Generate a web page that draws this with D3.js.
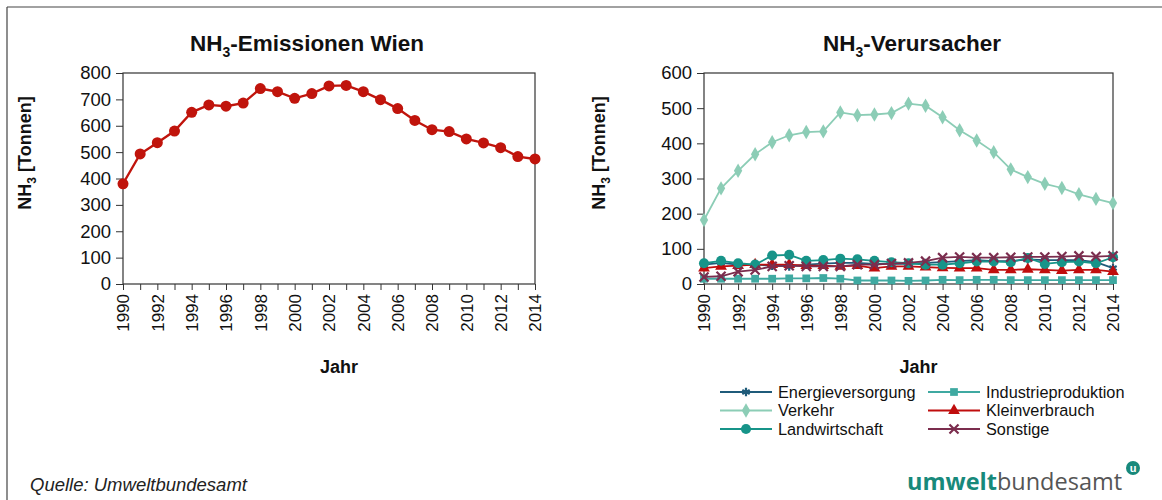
<!DOCTYPE html>
<html>
<head>
<meta charset="utf-8">
<script src="https://cdn.jsdelivr.net/npm/d3@7"></script>
<style>
  html, body { margin: 0; padding: 0; background: #fff; }
  svg { display: block; font-family: "Liberation Sans", Arial, sans-serif; }
</style>
</head>
<body>
<svg id="chart" width="1162" height="500"></svg>
<script>
// Years on the x axis
const years = d3.range(1990, 2015);

// Total NH3 emissions, Vienna (t)
const totalWien = [380, 493, 536, 580, 651, 679, 674, 686, 741, 729, 704, 722, 751, 753, 729, 699, 665, 620, 585, 578, 550, 535, 517, 483, 474];

// Emissions by source sector (t)
const energieversorgung = [55, 60, 55, 55, 52, 50, 55, 58, 60, 60, 57, 57, 57, 60, 62, 65, 68, 65, 65, 70, 68, 68, 68, 62, 45];
const industrieproduktion = [15, 15, 15, 15, 15, 16, 16, 17, 15, 10, 10, 10, 9, 10, 12, 11, 12, 12, 11, 11, 11, 11, 11, 11, 11];
const verkehr = [182, 272, 322, 369, 403, 423, 432, 434, 488, 480, 482, 486, 513, 507, 474, 437, 408, 375, 326, 304, 285, 273, 255, 242, 230];
const kleinverbrauch = [45, 50, 52, 55, 55, 55, 52, 52, 50, 52, 45, 50, 50, 48, 46, 45, 45, 40, 40, 42, 40, 38, 40, 40, 35];
const landwirtschaft = [59, 66, 59, 55, 81, 83, 66, 68, 72, 70, 66, 62, 59, 55, 55, 59, 64, 64, 62, 74, 57, 62, 64, 59, 76];
const sonstige = [20, 22, 35, 40, 50, 52, 50, 50, 50, 55, 55, 58, 60, 65, 75, 77, 75, 75, 76, 77, 77, 78, 80, 78, 80];

const leftTicks = [0, 100, 200, 300, 400, 500, 600, 700, 800];
const rightTicks = [0, 100, 200, 300, 400, 500, 600];

const sectors = [
  { name: "Energieversorgung", values: energieversorgung, color: "#1f5b7a", symbol: d3.symbolAsterisk, stroke: true, size: 50 },
  { name: "Industrieproduktion", values: industrieproduktion, color: "#3fa9a1", symbol: d3.symbolSquare, stroke: false, size: 60 },
  { name: "Verkehr", values: verkehr, color: "#8ccdb6", symbol: d3.symbolDiamond, stroke: false, size: 60 },
  { name: "Kleinverbrauch", values: kleinverbrauch, color: "#c00d0d", symbol: d3.symbolTriangle, stroke: false, size: 60 },
  { name: "Landwirtschaft", values: landwirtschaft, color: "#179489", symbol: d3.symbolCircle, stroke: false, size: 80 },
  { name: "Sonstige", values: sonstige, color: "#7b2d4e", symbol: d3.symbolTimes, stroke: true, size: 55 }
];

const svg = d3.select("#chart");

// outer frame (top and left edges)
svg.append("line").attr("x1", 7).attr("x2", 1162).attr("y1", 7).attr("y2", 7)
  .attr("stroke", "#444").attr("stroke-width", 1.2);
svg.append("line").attr("x1", 7).attr("x2", 7).attr("y1", 7).attr("y2", 500)
  .attr("stroke", "#444").attr("stroke-width", 1.2);

function title(x, y, rest) {
  const t = svg.append("text").attr("x", x).attr("y", y).attr("text-anchor", "middle")
    .attr("font-size", 22.5).attr("font-weight", "bold").attr("fill", "#111");
  t.append("tspan").text("NH");
  t.append("tspan").attr("font-size", 14).attr("dy", 6).text("3");
  t.append("tspan").attr("dy", -6).text(rest);
}

function yTitle(x, y) {
  const t = svg.append("text").attr("transform", `translate(${x},${y}) rotate(-90)`)
    .attr("text-anchor", "middle").attr("font-size", 18).attr("font-weight", "bold").attr("fill", "#111");
  t.append("tspan").text("NH");
  t.append("tspan").attr("font-size", 12).attr("dy", 5).text("3");
  t.append("tspan").attr("dy", -5).text(" [Tonnen]");
}

function panel(x0, x1, y0, y1, maxY, ticks) {
  const x = d3.scaleLinear().domain([1990, 2014]).range([x0, x1]);
  const y = d3.scaleLinear().domain([0, maxY]).range([y1, y0]);

  // frame
  svg.append("rect").attr("x", x0).attr("y", y0).attr("width", x1 - x0).attr("height", y1 - y0)
    .attr("fill", "none").attr("stroke", "#333").attr("stroke-width", 1.2);

  const yAxis = svg.append("g").attr("transform", `translate(${x0},0)`)
    .call(d3.axisLeft(y).tickValues(ticks).tickSize(7).tickPadding(5).tickFormat(d3.format("d")));
  yAxis.select(".domain").remove();
  yAxis.selectAll("line").attr("stroke", "#333");
  yAxis.selectAll("text").attr("font-size", 18.5).attr("fill", "#111")
    .attr("font-family", "'Liberation Sans', Arial, sans-serif");

  // ticks for every year, labels every second year
  const xAxis = svg.append("g").attr("transform", `translate(0,${y1})`)
    .call(d3.axisBottom(x).tickValues(years).tickSize(6).tickFormat(d => (d % 2 === 0 ? d : "")));
  xAxis.select(".domain").remove();
  xAxis.selectAll("line").attr("stroke", "#333");
  xAxis.selectAll("text")
    .attr("font-size", 17).attr("fill", "#111")
    .attr("font-family", "'Liberation Sans', Arial, sans-serif")
    .attr("text-anchor", "end").attr("dy", "0.35em")
    .attr("transform", "translate(0,4) rotate(-90)")
    .attr("x", -6).attr("y", 0);

  svg.append("text").attr("x", (x0 + x1) / 2 + 10).attr("y", 373).attr("text-anchor", "middle")
    .attr("font-size", 18).attr("font-weight", "bold").attr("fill", "#111").text("Jahr");
  return { x, y };
}

// ---- left: total emissions
title(307, 51, "-Emissionen Wien");
yTitle(31, 153);
const L = panel(123, 535, 73, 284, 800, leftTicks);
const lineL = d3.line().x((d, i) => L.x(years[i])).y(d => L.y(d));
svg.append("path").datum(totalWien).attr("d", lineL)
  .attr("fill", "none").attr("stroke", "#c0140c").attr("stroke-width", 2.4);
svg.append("g").selectAll("circle").data(totalWien).join("circle")
  .attr("cx", (d, i) => L.x(years[i])).attr("cy", d => L.y(d)).attr("r", 5.5)
  .attr("fill", "#c0140c");

// ---- right: sectors
title(912, 51, "-Verursacher");
yTitle(605, 153);
const R = panel(704, 1113, 73, 284, 600, rightTicks);
const lineR = d3.line().x((d, i) => R.x(years[i])).y(d => R.y(d));

function marker(sel, s) {
  sel.attr("d", d3.symbol().type(s.symbol).size(s.size))
    .attr("fill", s.stroke ? "none" : s.color)
    .attr("stroke", s.stroke ? s.color : "none")
    .attr("stroke-width", s.stroke ? 2.2 : 0);
}

sectors.forEach(s => {
  const g = svg.append("g");
  g.append("path").datum(s.values).attr("d", lineR)
    .attr("fill", "none").attr("stroke", s.color).attr("stroke-width", 1.8);
  g.selectAll("path.m").data(s.values).join("path").attr("class", "m")
    .attr("transform", (d, i) => `translate(${R.x(years[i])},${R.y(d)})`)
    .call(marker, s);
});

// legend: two columns, three rows
const legend = svg.append("g");
sectors.forEach((s, i) => {
  const col = i % 2, row = Math.floor(i / 2);
  const lx = col === 0 ? 720 : 928;
  const ly = 392 + row * 18.5;
  const g = legend.append("g").attr("transform", `translate(${lx},${ly})`);
  g.append("line").attr("x1", 0).attr("x2", 52).attr("stroke", s.color).attr("stroke-width", 1.8);
  g.append("path").attr("transform", "translate(26,0)").call(marker, s);
  g.append("text").attr("x", 58).attr("y", 0).attr("dy", "0.35em")
    .attr("font-size", 16.3).attr("fill", "#111").text(s.name);
});

// footer
svg.append("text").attr("x", 30).attr("y", 491).attr("font-size", 18.5)
  .attr("font-style", "italic").attr("fill", "#222").text("Quelle: Umweltbundesamt");

const logo = svg.append("text").attr("x", 907).attr("y", 490).attr("font-size", 23.5)
  .attr("font-family", "'Open Sans', 'DejaVu Sans', sans-serif");
logo.append("tspan").attr("font-weight", "bold").attr("fill", "#17897b").text("umwelt");
logo.append("tspan").attr("fill", "#555").text("bundesamt");
svg.append("circle").attr("cx", 1133).attr("cy", 468).attr("r", 7).attr("fill", "#17897b");
svg.append("text").attr("x", 1133).attr("y", 472).attr("text-anchor", "middle")
  .attr("font-size", 11).attr("font-weight", "bold").attr("fill", "#fff").text("u");
</script>
</body>
</html>
